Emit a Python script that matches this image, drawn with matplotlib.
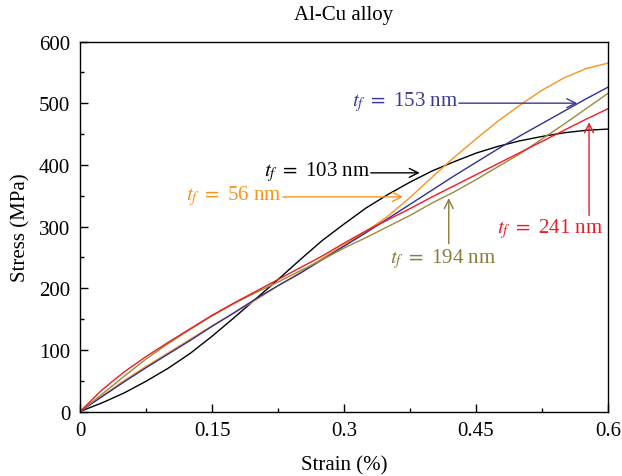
import numpy as np
import matplotlib
matplotlib.use('Agg')
import matplotlib.pyplot as plt
from matplotlib.ticker import MultipleLocator

plt.rcParams['font.family'] = ['Liberation Serif', 'DejaVu Serif']
plt.rcParams['mathtext.fontset'] = 'stix'

# strain (%) sample points shared by all curves
strain = [0.0, 0.025, 0.05, 0.075, 0.1, 0.125, 0.15, 0.175, 0.2, 0.225, 0.25, 0.275,
          0.3, 0.325, 0.35, 0.375, 0.4, 0.425, 0.45, 0.475, 0.5, 0.525, 0.55, 0.575, 0.6]

# stress (MPa) for each film thickness
stress_56 = [0, 25, 50, 73, 95, 117, 139, 160, 181, 204, 225, 248,
             270, 292, 317, 347, 380, 412, 442, 471, 497, 521, 541, 556, 565]
stress_103 = [0, 14, 30, 49, 70, 94, 122, 152, 183, 214, 246, 277,
              304, 330, 352, 372, 390, 405, 419, 430, 439, 446, 452, 456, 458]
stress_153 = [0, 24, 48, 71, 93, 115, 138, 160, 183, 204, 224, 246,
              268, 290, 313, 336, 359, 382, 404, 426, 447, 467, 487, 507, 526]
stress_194 = [0, 28, 57, 85, 110, 133, 155, 175, 193, 210, 228, 246,
              265, 282, 300, 318, 338, 356, 376, 397, 418, 442, 466, 491, 516]
stress_241 = [0, 35, 64, 89, 112, 134, 156, 176, 195, 214, 233, 252,
              273, 293, 311, 329, 348, 366, 384, 402, 420, 438, 456, 474, 491]

fig = plt.figure(figsize=(6.22, 4.77), dpi=100)
ax = fig.add_axes([0.1286, 0.1352, 0.849, 0.7757])

ax.plot(strain, stress_103, color='#000000', lw=1.0)
ax.plot(strain, stress_56, color='#F7941D', lw=1.0)
ax.plot(strain, stress_153, color='#2E3192', lw=1.0)
ax.plot(strain, stress_194, color='#9C8A3C', lw=1.0)
ax.plot(strain, stress_241, color='#ED1C24', lw=1.0)

fs = 15

def label_arrow(text, color, text_xy, ha, start, tip):
    ax.text(text_xy[0], text_xy[1], text, color=color, fontsize=fs, ha=ha, va='center')
    ax.annotate('', xy=tip, xytext=start,
                arrowprops=dict(arrowstyle='->', color=color, lw=1.0,
                                mutation_scale=16, shrinkA=0, shrinkB=0))

label_arrow(r'$t_f\ =$ 153 nm', '#3A3A96', (0.4295, 503), 'right', (0.4305, 500), (0.565, 500))
label_arrow(r'$t_f\ =$ 103 nm', '#000000', (0.3295, 390), 'right', (0.3305, 387), (0.386, 387))
label_arrow(r'$t_f\ =$ 56 nm', '#F7941D', (0.2295, 351), 'right', (0.2305, 348), (0.367, 348))
label_arrow(r'$t_f\ =$ 194 nm', '#8C7B3A', (0.4125, 249), 'center', (0.419, 272), (0.419, 346))
label_arrow(r'$t_f\ =$ 241 nm', '#ED1C24', (0.534, 297), 'center', (0.5784, 318), (0.5784, 469))

ax.set_xlim(0, 0.6)
ax.set_ylim(0, 600)
ax.xaxis.set_minor_locator(MultipleLocator(0.075))
ax.yaxis.set_major_locator(MultipleLocator(100))
ax.yaxis.set_minor_locator(MultipleLocator(50))
ax.set_xticks([0, 0.15, 0.3, 0.45, 0.6])
ax.set_xticklabels(['0', '0.15', '0.3', '0.45', '0.6'])
ax.tick_params(which='both', direction='in', top=False, right=False, labelsize=fs, pad=7)
ax.tick_params(which='major', length=6, width=1)
ax.tick_params(which='minor', length=3, width=1)
for s in ax.spines.values():
    s.set_linewidth(1.0)

ax.set_xlabel('Strain (%)', fontsize=fs, labelpad=11)
ax.set_ylabel('Stress (MPa)', fontsize=fs, labelpad=6)
ax.set_title('Al-Cu alloy', fontsize=fs, pad=16)

fig.savefig('out.png', dpi=100)
